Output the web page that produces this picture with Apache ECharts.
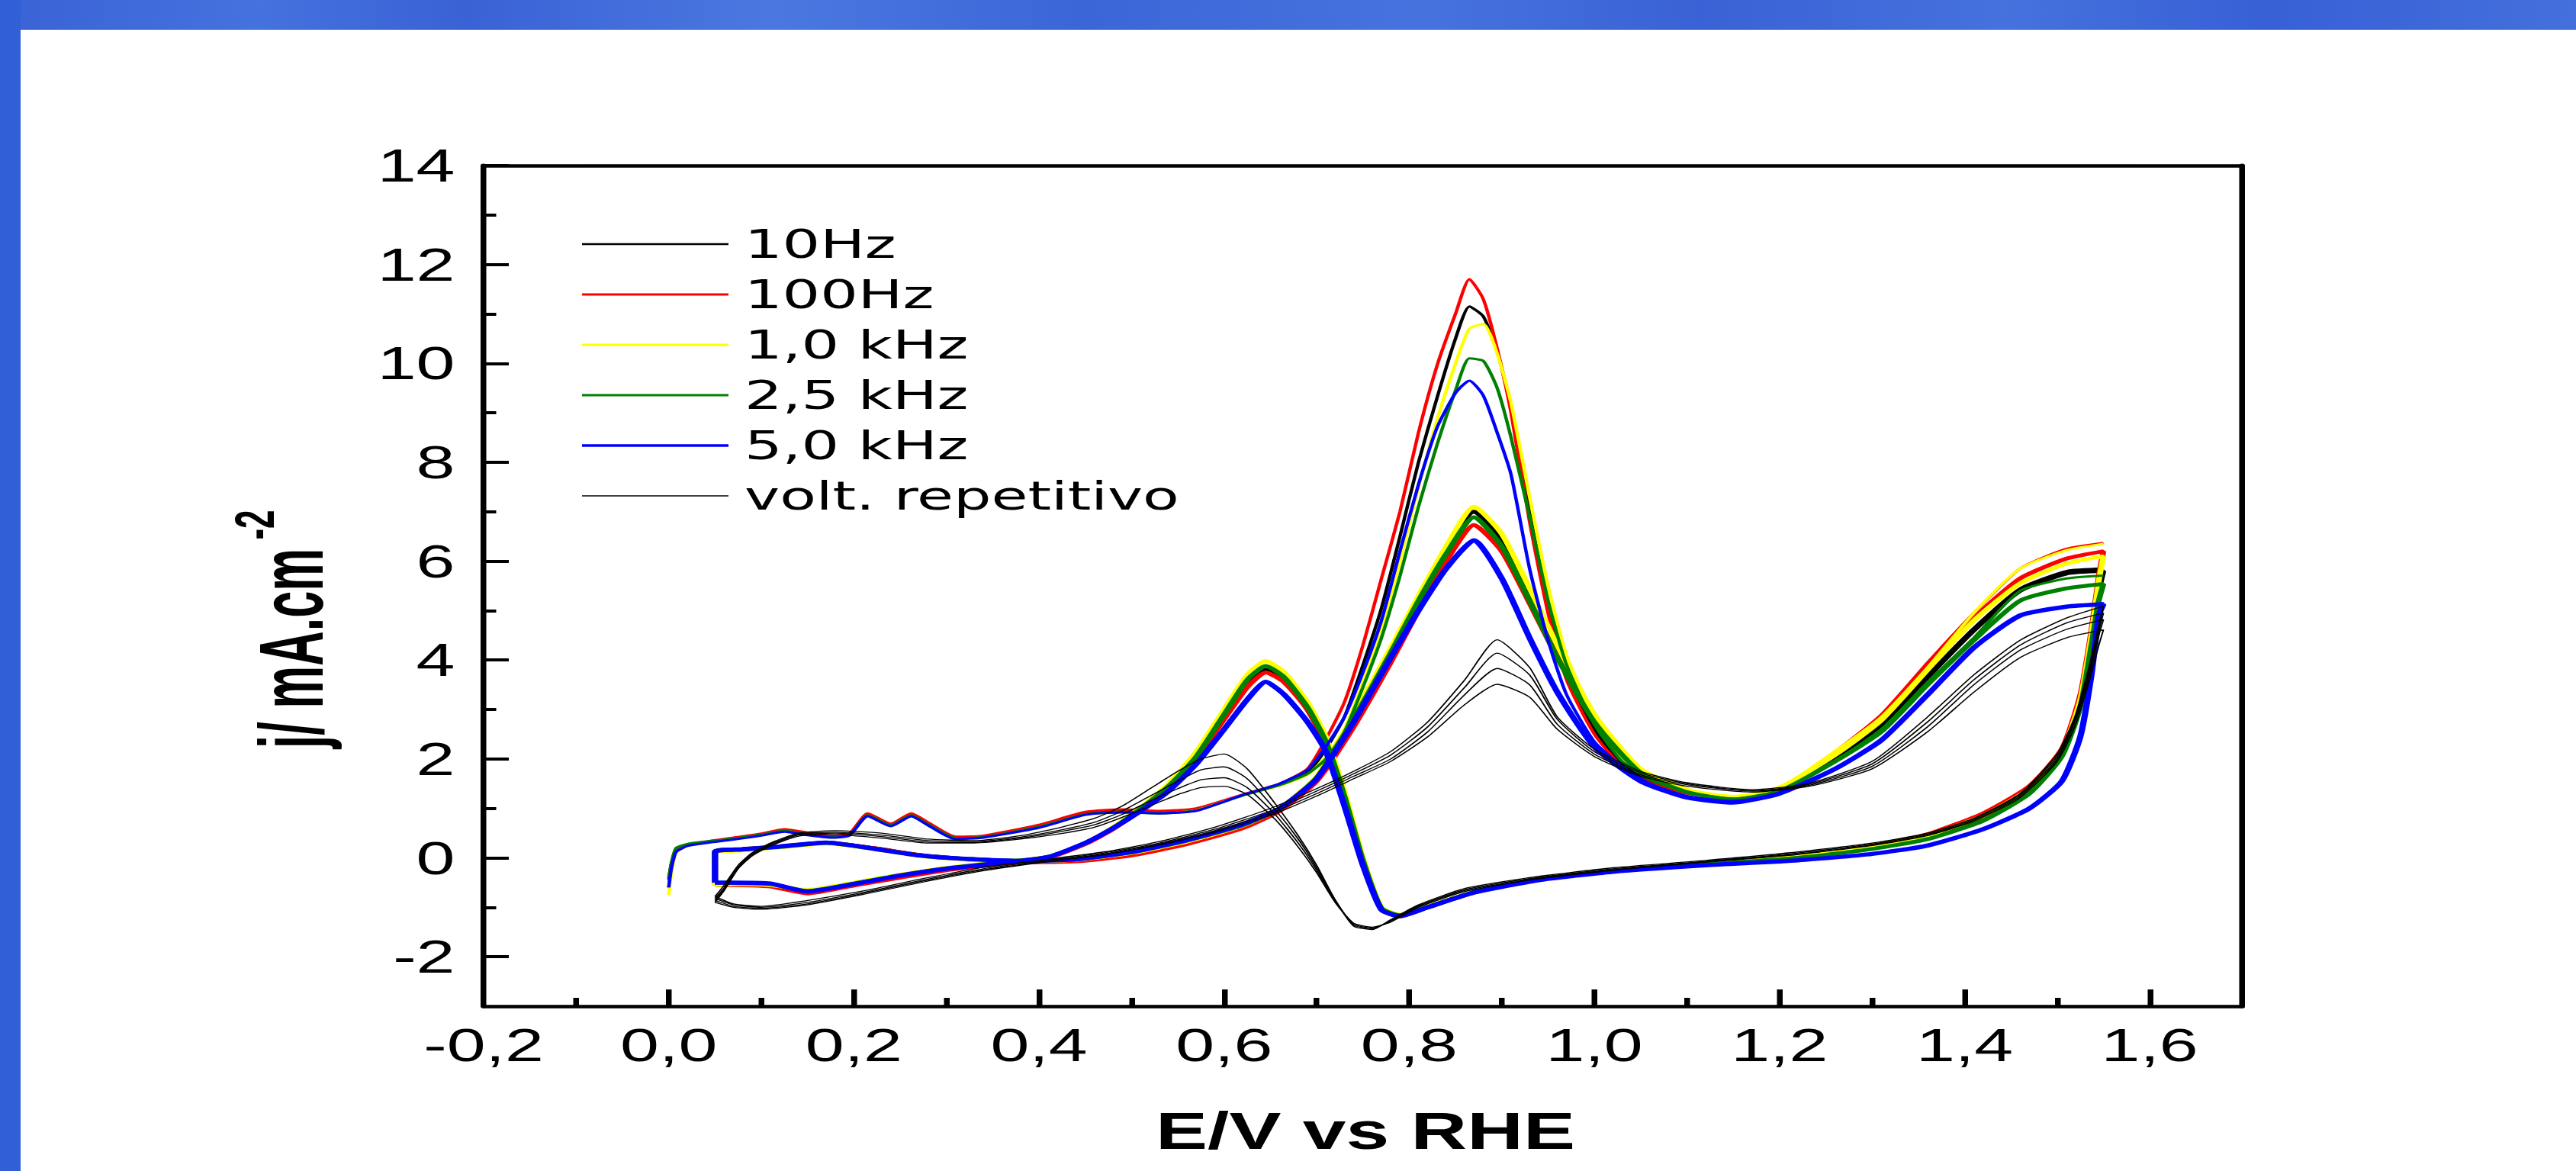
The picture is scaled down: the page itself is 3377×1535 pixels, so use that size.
<!DOCTYPE html>
<html>
<head>
<meta charset="utf-8">
<title>Voltametria</title>
<script src="https://cdn.jsdelivr.net/npm/echarts@6.0.0/dist/echarts.min.js"></script>
<style>
  html, body { margin: 0; padding: 0; width: 3377px; height: 1535px; overflow: hidden; background: #fff; }
  .band-top {
    position: absolute; left: 0; top: 0; width: 3377px; height: 39px;
    background: linear-gradient(90deg, #3a63d6 0%, #4472de 10%, #3a62d6 18%, #4a78e0 30%, #3b66d8 42%,
      #4673de 55%, #3a62d6 66%, #4572dd 78%, #3760d6 88%, #4470dc 100%);
  }
  .band-left { position: absolute; left: 0; top: 0; width: 27px; height: 1535px; background: #3160d6; }
  #chart { position: absolute; left: 0; top: 0; height: 1535px; transform-origin: 0 0; }
</style>
</head>
<body>
<div class="band-top"></div>
<div class="band-left"></div>
<div id="chart"></div>
<script>
// the source figure is stretched sideways, so the chart is drawn narrow and widened
const STRETCH = 1.5;
const PAGE_W = 3377;

// tick positions
const xMajor = [0, 0.2, 0.4, 0.6, 0.8, 1.0, 1.2, 1.4, 1.6];
const xLabels = [-0.2, 0, 0.2, 0.4, 0.6, 0.8, 1.0, 1.2, 1.4, 1.6];
const xMinor = [-0.1, 0.1, 0.3, 0.5, 0.7, 0.9, 1.1, 1.3, 1.5];
const yMajor = [-2, 0, 2, 4, 6, 8, 10, 12, 14];
const yMinor = [-1, 1, 3, 5, 7, 9, 11, 13];

// potentials (V vs RHE) sampled along each sweep
const E_A = [0.0, 0.003, 0.008, 0.02, 0.04, 0.07, 0.10, 0.125, 0.15, 0.175, 0.195, 0.215, 0.24, 0.262, 0.28, 0.31, 0.34, 0.40, 0.45, 0.49,
  0.53, 0.57, 0.62, 0.66, 0.69, 0.71, 0.73, 0.75, 0.77, 0.79, 0.81, 0.83, 0.85, 0.865, 0.88, 0.895, 0.91, 0.93, 0.95, 0.97,
  1.00, 1.03, 1.06, 1.10, 1.15, 1.20, 1.26, 1.31, 1.36, 1.41, 1.46, 1.51, 1.55];
const E_Bup = [0.05, 0.05, 0.08, 0.12, 0.17, 0.22, 0.27, 0.32, 0.38, 0.44, 0.50, 0.56, 0.62, 0.66, 0.70, 0.74, 0.78, 0.81, 0.84, 0.87,
  0.90, 0.93, 0.96, 1.00, 1.05, 1.10, 1.15, 1.20, 1.26, 1.31, 1.36, 1.41, 1.46, 1.51, 1.55];
const E_Bdown = [1.55, 1.545, 1.537, 1.525, 1.505, 1.47, 1.42, 1.36, 1.30, 1.22, 1.12, 1.02, 0.94, 0.87, 0.82, 0.79, 0.77, 0.75, 0.73, 0.71,
  0.69, 0.665, 0.645, 0.625, 0.60, 0.57, 0.54, 0.51, 0.48, 0.45, 0.41, 0.36, 0.30, 0.25, 0.20, 0.15, 0.11, 0.07, 0.05];
const E_Vup = [0.05, 0.07, 0.10, 0.15, 0.21, 0.28, 0.34, 0.40, 0.47, 0.53, 0.59, 0.65, 0.70, 0.74, 0.78, 0.82, 0.86, 0.895, 0.93, 0.96,
  1.00, 1.05, 1.10, 1.17, 1.23, 1.30, 1.36, 1.41, 1.46, 1.51, 1.55];
const E_Vdown = [1.55, 1.545, 1.535, 1.52, 1.50, 1.46, 1.41, 1.36, 1.30, 1.22, 1.12, 1.02, 0.93, 0.86, 0.81, 0.78, 0.76, 0.74, 0.72, 0.70,
  0.68, 0.655, 0.625, 0.60, 0.575, 0.55, 0.52, 0.49, 0.46, 0.42, 0.38, 0.33, 0.28, 0.23, 0.18, 0.14, 0.11, 0.09, 0.075, 0.06, 0.05];

// first anodic sweep (j / mA cm-2)
const j10A = [-0.42, -0.1, 0.18, 0.27, 0.32, 0.39, 0.47, 0.55, 0.48, 0.42, 0.46, 0.86, 0.66, 0.86, 0.68, 0.40, 0.42, 0.63, 0.89, 0.94,
  0.91, 0.97, 1.27, 1.48, 1.72, 2.2, 2.85, 3.9, 5.05, 6.5, 8.0, 9.3, 10.5, 11.15, 10.95, 10.25, 9.1, 7.0, 5.1, 3.75,
  2.6, 1.9, 1.55, 1.32, 1.22, 1.38, 2.0, 2.7, 3.7, 4.65, 5.45, 5.8, 5.85];
const j100A = [-0.6, -0.2, 0.15, 0.26, 0.33, 0.41, 0.49, 0.58, 0.51, 0.45, 0.49, 0.9, 0.69, 0.9, 0.72, 0.43, 0.45, 0.67, 0.93, 0.98,
  0.95, 1.0, 1.28, 1.5, 1.8, 2.4, 3.15, 4.3, 5.65, 7.0, 8.6, 9.95, 11.0, 11.7, 11.3, 10.3, 9.0, 6.8, 4.95, 3.6,
  2.5, 1.85, 1.52, 1.3, 1.22, 1.4, 2.15, 2.9, 3.95, 4.95, 5.85, 6.25, 6.37];
const j1kA = [-0.75, -0.3, 0.1, 0.24, 0.3, 0.38, 0.46, 0.54, 0.47, 0.41, 0.45, 0.84, 0.64, 0.84, 0.66, 0.39, 0.41, 0.62, 0.87, 0.92,
  0.9, 0.96, 1.26, 1.46, 1.68, 2.05, 2.6, 3.55, 4.6, 6.0, 7.5, 8.85, 10.0, 10.7, 10.8, 10.2, 9.2, 7.3, 5.5, 4.1,
  2.85, 2.05, 1.65, 1.38, 1.25, 1.42, 2.16, 2.85, 3.85, 4.95, 5.85, 6.22, 6.35];
const j25kA = [-0.45, -0.1, 0.2, 0.28, 0.33, 0.39, 0.47, 0.55, 0.48, 0.42, 0.46, 0.86, 0.66, 0.86, 0.68, 0.40, 0.42, 0.63, 0.88, 0.93,
  0.9, 0.96, 1.26, 1.47, 1.7, 2.0, 2.55, 3.45, 4.45, 5.7, 7.1, 8.35, 9.45, 10.1, 10.05, 9.5, 8.5, 6.9, 5.2, 3.9,
  2.7, 1.95, 1.58, 1.33, 1.2, 1.35, 1.96, 2.6, 3.55, 4.45, 5.4, 5.65, 5.71];
const j5kA = [-0.6, -0.2, 0.12, 0.24, 0.3, 0.37, 0.45, 0.53, 0.46, 0.41, 0.45, 0.84, 0.64, 0.84, 0.66, 0.38, 0.41, 0.61, 0.87, 0.92,
  0.9, 0.95, 1.27, 1.5, 1.78, 2.25, 2.85, 3.75, 4.8, 6.2, 7.55, 8.7, 9.4, 9.65, 9.35, 8.6, 7.75, 5.85, 4.4, 3.3,
  2.35, 1.85, 1.5, 1.25, 1.15, 1.3, 1.8, 2.35, 3.3, 4.25, 4.9, 5.08, 5.15];

// steady cycles, anodic then cathodic half
const j10Up = [-0.5, 0.13, 0.18, 0.23, 0.31, 0.2, 0.06, -0.02, -0.06, -0.03, 0.12, 0.35, 0.67, 1.0, 1.62, 2.85, 4.2, 5.25, 6.25, 7.0,
  6.45, 5.35, 4.2, 2.85, 1.78, 1.35, 1.2, 1.38, 2.0, 2.65, 3.65, 4.6, 5.4, 5.75, 5.8];
const j10Down = [5.8, 5.4, 4.4, 3.15, 2.1, 1.35, 0.8, 0.42, 0.2, 0.01, -0.13, -0.27, -0.44, -0.7, -1.0, -1.17, -1.03, -0.08, 1.2, 2.3,
  3.0, 3.6, 3.8, 3.5, 2.85, 2.0, 1.4, 0.98, 0.6, 0.3, 0.01, -0.1, -0.22, -0.37, -0.54, -0.7, -0.55, -0.52, -0.5];
const j100Up = [-0.55, 0.11, 0.16, 0.22, 0.3, 0.2, 0.06, -0.03, -0.09, -0.07, 0.05, 0.28, 0.6, 0.95, 1.55, 2.65, 3.95, 5.0, 6.0, 6.73,
  6.2, 5.15, 4.05, 2.8, 1.75, 1.35, 1.2, 1.4, 2.1, 2.8, 3.85, 4.85, 5.65, 6.05, 6.2];
const j100Down = [6.2, 5.7, 4.6, 3.3, 2.2, 1.45, 0.9, 0.48, 0.24, 0.03, -0.12, -0.26, -0.43, -0.7, -1.0, -1.18, -1.05, -0.1, 1.2, 2.3,
  3.0, 3.55, 3.75, 3.45, 2.8, 2.0, 1.4, 0.97, 0.58, 0.28, 0.0, -0.12, -0.25, -0.4, -0.56, -0.72, -0.58, -0.55, -0.55];
const j1kUp = [-0.55, 0.1, 0.15, 0.21, 0.29, 0.18, 0.04, -0.03, -0.07, -0.04, 0.1, 0.33, 0.65, 1.0, 1.65, 2.9, 4.25, 5.3, 6.3, 7.1,
  6.55, 5.45, 4.3, 2.9, 1.8, 1.38, 1.22, 1.42, 2.08, 2.78, 3.8, 4.8, 5.55, 5.95, 6.1];
const j1kDown = [6.1, 5.6, 4.5, 3.2, 2.15, 1.4, 0.85, 0.45, 0.22, 0.02, -0.12, -0.26, -0.42, -0.68, -0.98, -1.15, -1.0, 0.0, 1.35, 2.45,
  3.15, 3.75, 3.98, 3.7, 3.0, 2.15, 1.5, 1.02, 0.62, 0.3, 0.02, -0.08, -0.2, -0.34, -0.5, -0.65, -0.55, -0.53, -0.55];
const j25kUp = [-0.5, 0.12, 0.17, 0.22, 0.3, 0.19, 0.05, -0.02, -0.06, -0.03, 0.11, 0.35, 0.66, 1.0, 1.62, 2.82, 4.15, 5.2, 6.15, 6.89,
  6.3, 5.2, 4.05, 2.75, 1.72, 1.33, 1.18, 1.35, 1.95, 2.55, 3.5, 4.4, 5.2, 5.45, 5.54];
const j25kDown = [5.54, 5.2, 4.3, 3.05, 2.05, 1.3, 0.75, 0.38, 0.18, 0.0, -0.13, -0.27, -0.43, -0.69, -0.99, -1.16, -1.02, -0.05, 1.25, 2.35,
  3.05, 3.65, 3.88, 3.6, 2.9, 2.05, 1.45, 1.0, 0.6, 0.3, 0.02, -0.09, -0.21, -0.35, -0.52, -0.67, -0.53, -0.51, -0.5];
const j5kUp = [-0.5, 0.12, 0.17, 0.23, 0.31, 0.19, 0.05, -0.02, -0.06, -0.03, 0.12, 0.36, 0.68, 1.0, 1.6, 2.75, 4.05, 5.0, 5.85, 6.42,
  5.65, 4.45, 3.35, 2.25, 1.55, 1.22, 1.12, 1.3, 1.8, 2.38, 3.3, 4.25, 4.9, 5.08, 5.13];
const j5kDown = [5.13, 4.9, 3.7, 2.45, 1.55, 1.0, 0.58, 0.25, 0.08, -0.05, -0.15, -0.28, -0.45, -0.7, -1.0, -1.18, -1.05, -0.15, 1.05, 2.15,
  2.75, 3.3, 3.56, 3.2, 2.6, 1.9, 1.35, 0.95, 0.6, 0.3, 0.02, -0.1, -0.22, -0.36, -0.53, -0.68, -0.52, -0.5, -0.5];

// repetitive voltammetry, four cycles
const jV1Up = [-0.78, -0.93, -0.98, -0.86, -0.67, -0.40, -0.19, -0.05, 0.12, 0.33, 0.62, 1.0, 1.4, 1.75, 2.15, 2.75, 3.6, 4.41, 3.85, 2.85,
  2.2, 1.75, 1.52, 1.38, 1.5, 1.95, 2.85, 3.7, 4.4, 4.85, 5.09];
const jV1Down = [5.09, 4.7, 3.9, 2.9, 2.1, 1.3, 0.8, 0.5, 0.3, 0.12, -0.05, -0.2, -0.4, -0.62, -0.95, -1.25, -1.45, -1.38, -0.85, -0.15,
  0.45, 1.1, 1.8, 2.1, 2.0, 1.75, 1.4, 1.05, 0.8, 0.6, 0.45, 0.35, 0.38, 0.5, 0.55, 0.5, 0.3, 0.1, -0.15, -0.55, -0.78];
const jV2Up = [-0.82, -0.95, -1.0, -0.9, -0.7, -0.43, -0.22, -0.07, 0.1, 0.3, 0.58, 0.95, 1.35, 1.7, 2.08, 2.65, 3.45, 4.14, 3.7, 2.8,
  2.15, 1.72, 1.5, 1.36, 1.48, 1.9, 2.75, 3.6, 4.3, 4.75, 4.95];
const jV2Down = [4.95, 4.6, 3.8, 2.85, 2.05, 1.28, 0.78, 0.48, 0.28, 0.1, -0.07, -0.22, -0.42, -0.64, -0.97, -1.27, -1.43, -1.36, -0.85, -0.2,
  0.38, 0.98, 1.6, 1.84, 1.78, 1.55, 1.25, 0.95, 0.72, 0.55, 0.42, 0.33, 0.35, 0.46, 0.52, 0.48, 0.28, 0.08, -0.18, -0.6, -0.82];
const jV3Up = [-0.86, -0.98, -1.02, -0.93, -0.72, -0.45, -0.24, -0.09, 0.08, 0.28, 0.55, 0.9, 1.3, 1.65, 2.0, 2.55, 3.3, 3.83, 3.5, 2.7,
  2.1, 1.68, 1.48, 1.35, 1.46, 1.85, 2.65, 3.5, 4.2, 4.62, 4.82];
const jV3Down = [4.82, 4.5, 3.7, 2.8, 2.0, 1.25, 0.76, 0.46, 0.26, 0.08, -0.08, -0.24, -0.44, -0.66, -0.98, -1.28, -1.42, -1.34, -0.88, -0.25,
  0.3, 0.88, 1.42, 1.62, 1.58, 1.4, 1.15, 0.88, 0.67, 0.52, 0.4, 0.31, 0.32, 0.43, 0.5, 0.46, 0.26, 0.06, -0.2, -0.63, -0.86];
const jV4Up = [-0.9, -1.0, -1.04, -0.95, -0.74, -0.47, -0.26, -0.1, 0.06, 0.26, 0.52, 0.86, 1.25, 1.6, 1.95, 2.45, 3.1, 3.51, 3.25, 2.6,
  2.05, 1.65, 1.45, 1.33, 1.44, 1.8, 2.55, 3.35, 4.05, 4.45, 4.61];
const jV4Down = [4.61, 4.3, 3.6, 2.7, 1.95, 1.22, 0.74, 0.45, 0.25, 0.07, -0.09, -0.25, -0.45, -0.68, -1.0, -1.3, -1.4, -1.32, -0.9, -0.3,
  0.22, 0.78, 1.28, 1.45, 1.42, 1.28, 1.05, 0.82, 0.62, 0.48, 0.38, 0.3, 0.3, 0.4, 0.47, 0.44, 0.24, 0.04, -0.22, -0.66, -0.9];

const legendNames = ['10Hz', '100Hz', '1,0 kHz', '2,5 kHz', '5,0 kHz', 'volt. repetitivo'];
const FONT = '"Liberation Sans", Arial, Helvetica, sans-serif';
const WIDE_FONT = '"DejaVu Sans", "Liberation Sans", sans-serif';

const pairs = (xs, ys) => xs.map((x, i) => [x, ys[i]]);
const E_B = E_Bup.concat(E_Bdown);
const E_V = E_Vup.concat(E_Vdown);

function curve(name, color, width, xs, ys) {
  return {
    name,
    type: 'line',
    data: pairs(xs, ys),
    symbol: 'none',
    smooth: 0.2,
    silent: true,
    lineStyle: { color, width },
    itemStyle: { color },
  };
}

const series = [
  curve('10Hz', '#000000', 5, E_B, j10Up.concat(j10Down)),
  curve('10Hz', '#000000', 3, E_A, j10A),
  curve('100Hz', '#ff0000', 5, E_B, j100Up.concat(j100Down)),
  curve('100Hz', '#ff0000', 3, E_A, j100A),
  curve('1,0 kHz', '#ffff00', 5, E_B, j1kUp.concat(j1kDown)),
  curve('1,0 kHz', '#ffff00', 3, E_A, j1kA),
  curve('2,5 kHz', '#008000', 5, E_B, j25kUp.concat(j25kDown)),
  curve('2,5 kHz', '#008000', 3, E_A, j25kA),
  curve('5,0 kHz', '#0000ff', 5.5, E_B, j5kUp.concat(j5kDown)),
  curve('5,0 kHz', '#0000ff', 3, E_A, j5kA),
  curve('volt. repetitivo', '#000000', 1.3, E_V, jV1Up.concat(jV1Down)),
  curve('volt. repetitivo', '#000000', 1.3, E_V, jV2Up.concat(jV2Down)),
  curve('volt. repetitivo', '#000000', 1.3, E_V, jV3Up.concat(jV3Down)),
  curve('volt. repetitivo', '#000000', 1.3, E_V, jV4Up.concat(jV4Down)),
];

const comma = v => v.toFixed(1).replace('.', ',');
const noLine = { show: false, onZero: false };
const blackLine = w => ({ onZero: false, lineStyle: { color: '#000', width: w } });

// one axis for the line and labels, one each for long and short inner ticks
function tickAxis(type, min, max, values, length, width) {
  return {
    type: 'value', min, max, position: type,
    axisLine: noLine,
    axisTick: { inside: true, length, customValues: values, lineStyle: { color: '#000', width } },
    axisLabel: { show: false }, splitLine: { show: false },
  };
}

const el = document.getElementById('chart');
el.style.width = (PAGE_W / STRETCH) + 'px';
el.style.transform = 'scaleX(' + STRETCH + ')';

const chart = echarts.init(el, null, { renderer: 'svg' });

chart.setOption({
  animation: false,
  grid: { left: 634 / STRETCH, right: (PAGE_W - 2940) / STRETCH, top: 217, bottom: 216, containLabel: false },
  xAxis: [
    {
      type: 'value', min: -0.2, max: 1.7, position: 'bottom',
      axisLine: blackLine(4.5),
      axisTick: { show: false },
      axisLabel: { customValues: xLabels, formatter: comma, margin: 20, fontSize: 61, fontFamily: FONT, color: '#000' },
      splitLine: { show: false },
    },
    tickAxis('bottom', -0.2, 1.7, xMajor, 22, 5),
    tickAxis('bottom', -0.2, 1.7, xMinor, 11, 5),
    {
      type: 'value', min: -0.2, max: 1.7, position: 'top', axisLine: blackLine(4.5),
      axisTick: { show: false }, axisLabel: { show: false }, splitLine: { show: false },
    },
  ],
  yAxis: [
    {
      type: 'value', min: -3, max: 14, position: 'left',
      axisLine: blackLine(5),
      axisTick: { show: false },
      axisLabel: { customValues: yMajor, margin: 25, fontSize: 61, fontFamily: FONT, color: '#000' },
      splitLine: { show: false },
    },
    tickAxis('left', -3, 14, yMajor, 22, 4),
    tickAxis('left', -3, 14, yMinor, 11, 4),
    {
      type: 'value', min: -3, max: 14, position: 'right', axisLine: blackLine(5),
      axisTick: { show: false }, axisLabel: { show: false }, splitLine: { show: false },
    },
  ],
  legend: {
    orient: 'vertical',
    left: 763 / STRETCH,
    top: 287,
    padding: 0,
    itemGap: 0,
    itemWidth: 128,
    itemHeight: 10,
    symbolKeepAspect: true,
    selectedMode: false,
    data: [
      { name: legendNames[0], icon: 'path://M0 0H100V1.8H0Z' },
      { name: legendNames[1], icon: 'path://M0 0H100V2.4H0Z' },
      { name: legendNames[2], icon: 'path://M0 0H100V2.4H0Z' },
      { name: legendNames[3], icon: 'path://M0 0H100V2.4H0Z' },
      { name: legendNames[4], icon: 'path://M0 0H100V2.8H0Z' },
      { name: legendNames[5], icon: 'path://M0 0H100V1.2H0Z' },
    ],
    textStyle: { fontSize: 52, fontFamily: WIDE_FONT, color: '#000', lineHeight: 66, padding: [0, 0, 0, 9] },
  },
  graphic: [
    {
      type: 'text', x: 1790 / STRETCH, y: 1482,
      style: { text: 'E/V vs RHE', font: 'bold 68px ' + FONT, fill: '#000', align: 'center', verticalAlign: 'middle' },
    },
    {
      type: 'text', x: 382 / STRETCH, y: 850, rotation: Math.PI / 2, scaleY: 1.25,
      style: { text: 'j/ mA.cm', font: 'bold 63px ' + FONT, fill: '#000', align: 'center', verticalAlign: 'middle' },
    },
    {
      type: 'text', x: 334 / STRETCH, y: 688, rotation: Math.PI / 2, scaleY: 1.1,
      style: { text: '-2', font: 'bold 44px ' + FONT, fill: '#000', align: 'center', verticalAlign: 'middle' },
    },
  ],
  series,
});

window.addEventListener('resize', () => chart.resize());
</script>
</body>
</html>
